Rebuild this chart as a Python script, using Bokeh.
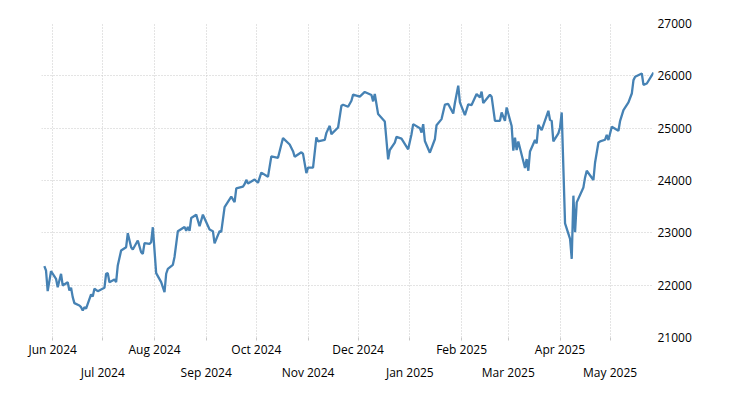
import pandas as pd
from bokeh.plotting import figure
from bokeh.models import ColumnDataSource, DatetimeAxis, FixedTicker, Range1d, NumeralTickFormatter
from bokeh.embed import file_html
from bokeh.resources import INLINE

dates = [
    "2024-05-27", "2024-05-28", "2024-05-29", "2024-05-31", "2024-06-03", "2024-06-04", "2024-06-06",
    "2024-06-07", "2024-06-10", "2024-06-11", "2024-06-12", "2024-06-13", "2024-06-14", "2024-06-17",
    "2024-06-18", "2024-06-19", "2024-06-20", "2024-06-21", "2024-06-24", "2024-06-25", "2024-06-26",
    "2024-06-28", "2024-07-02", "2024-07-03", "2024-07-04", "2024-07-05", "2024-07-08", "2024-07-09",
    "2024-07-10", "2024-07-12", "2024-07-15", "2024-07-16", "2024-07-18", "2024-07-19", "2024-07-22",
    "2024-07-24", "2024-07-25", "2024-07-26", "2024-07-29", "2024-07-30", "2024-07-31", "2024-08-02",
    "2024-08-05", "2024-08-07", "2024-08-08", "2024-08-09", "2024-08-12", "2024-08-13", "2024-08-15",
    "2024-08-19", "2024-08-20", "2024-08-21", "2024-08-22", "2024-08-23", "2024-08-26", "2024-08-28",
    "2024-08-30", "2024-09-03", "2024-09-05", "2024-09-06", "2024-09-09", "2024-09-10", "2024-09-12",
    "2024-09-16", "2024-09-18", "2024-09-19", "2024-09-23", "2024-09-24", "2024-09-25", "2024-09-26",
    "2024-09-30", "2024-10-02", "2024-10-04", "2024-10-08", "2024-10-10", "2024-10-14", "2024-10-17",
    "2024-10-21", "2024-10-23", "2024-10-24", "2024-10-28", "2024-10-29", "2024-10-31", "2024-11-01",
    "2024-11-04", "2024-11-06", "2024-11-07", "2024-11-11", "2024-11-12", "2024-11-14", "2024-11-15",
    "2024-11-19", "2024-11-21", "2024-11-22", "2024-11-25", "2024-11-27", "2024-11-28", "2024-12-02",
    "2024-12-05", "2024-12-09", "2024-12-10", "2024-12-11", "2024-12-13", "2024-12-17", "2024-12-19",
    "2024-12-20", "2024-12-23", "2024-12-24", "2024-12-27", "2024-12-31", "2025-01-02", "2025-01-03",
    "2025-01-07", "2025-01-08", "2025-01-09", "2025-01-10", "2025-01-13", "2025-01-16", "2025-01-17",
    "2025-01-20", "2025-01-22", "2025-01-24", "2025-01-27", "2025-01-28", "2025-01-30", "2025-01-31",
    "2025-02-03", "2025-02-05", "2025-02-07", "2025-02-10", "2025-02-12", "2025-02-13", "2025-02-14",
    "2025-02-18", "2025-02-19", "2025-02-21", "2025-02-24", "2025-02-25", "2025-02-27", "2025-02-28",
    "2025-03-03", "2025-03-04", "2025-03-05", "2025-03-06", "2025-03-07", "2025-03-11", "2025-03-12",
    "2025-03-13", "2025-03-14", "2025-03-17", "2025-03-18", "2025-03-19", "2025-03-21", "2025-03-25",
    "2025-03-26", "2025-03-27", "2025-03-28", "2025-03-31", "2025-04-01", "2025-04-02", "2025-04-04",
    "2025-04-07", "2025-04-08", "2025-04-09", "2025-04-10", "2025-04-11", "2025-04-15", "2025-04-16",
    "2025-04-17", "2025-04-21", "2025-04-22", "2025-04-24", "2025-04-25", "2025-04-28", "2025-04-29",
    "2025-04-30", "2025-05-02", "2025-05-06", "2025-05-07", "2025-05-09", "2025-05-12", "2025-05-14",
    "2025-05-15", "2025-05-16", "2025-05-20", "2025-05-21", "2025-05-23", "2025-05-27",
]

values = [
    22363, 22280, 21885, 22267, 22122, 21962, 22217,
    21994, 22057, 21899, 21950, 21771, 21656, 21612,
    21580, 21515, 21580, 21550, 21822, 21784, 21931,
    21885, 21950, 22218, 22230, 22057, 22109, 22057,
    22376, 22662, 22725, 22992, 22725, 22681, 22853,
    22630, 22599, 22802, 22790, 22821, 23107, 22229,
    22057, 21866, 22218, 22313, 22389, 22540, 23031,
    23113, 23038, 23113, 23038, 23283, 23347, 23126,
    23347, 23064, 23032, 22800, 23032, 23019, 23491,
    23692, 23585, 23849, 23881, 23932, 24013, 23943,
    24019, 23956, 24151, 24070, 24460, 24434, 24811,
    24687, 24560, 24453, 24541, 24509, 24140, 24245,
    24245, 24824, 24749, 24775, 24910, 25044, 24885,
    25012, 25429, 25448, 25410, 25525, 25640, 25602,
    25692, 25635, 25512, 25654, 25269, 25127, 24404,
    24583, 24723, 24833, 24800, 24596, 24885, 25077,
    25000, 24915, 25077, 24756, 24531, 24788, 25057,
    25173, 25448, 25462, 25281, 25481, 25813, 25492,
    25250, 25454, 25442, 25654, 25588, 25698, 25481,
    25640, 25602, 25140, 25141, 25300, 25141, 25395,
    25040, 24569, 24820, 24582, 24746, 24238, 24410,
    24187, 24555, 24773, 24708, 25065, 24963, 25332,
    25155, 25141, 24746, 24899, 25014, 25300, 23181,
    22884, 22502, 23710, 23010, 23582, 23868, 24059,
    24187, 24010, 24345, 24727, 24746, 24779, 24874,
    24773, 25027, 24950, 25141, 25345, 25491, 25662,
    25918, 25981, 26044, 25828, 25853, 26063,
]

row1_ticks = ["2024-06-01", "2024-08-01", "2024-10-01", "2024-12-01", "2025-02-01", "2025-04-01"]
row1_labels = ["Jun 2024", "Aug 2024", "Oct 2024", "Dec 2024", "Feb 2025", "Apr 2025"]
row2_ticks = ["2024-07-01", "2024-09-01", "2024-11-01", "2025-01-01", "2025-03-01", "2025-05-01"]
row2_labels = ["Jul 2024", "Sep 2024", "Nov 2024", "Jan 2025", "Mar 2025", "May 2025"]
y_ticks = [21000, 22000, 23000, 24000, 25000, 26000, 27000]


def to_ms(s):
    return float(pd.Timestamp(s).value // 10**6)


row1_ms = [to_ms(s) for s in row1_ticks]
row2_ms = [to_ms(s) for s in row2_ticks]
all_ms = sorted(row1_ms + row2_ms)

src = ColumnDataSource(data=dict(date=pd.to_datetime(dates), value=values))

FONT = "Open Sans"
FSIZE = "12px"
TCOLOR = "#000000"
GRID = "#c8c8c8"

p = figure(
    width=716, height=392,
    x_axis_type="datetime", y_axis_location="right",
    x_range=Range1d(to_ms("2024-05-25") + 7 * 3600e3, to_ms("2025-05-27")),
    y_range=Range1d(21000, 27000),
    output_backend="svg", toolbar_location=None,
    min_border_left=41, min_border_right=63, min_border_top=23, min_border_bottom=55,
)
p.outline_line_color = None
p.background_fill_color = "white"
p.border_fill_color = "white"

p.xgrid.ticker = FixedTicker(ticks=all_ms)
p.ygrid.ticker = FixedTicker(ticks=y_ticks)
for g in (p.xgrid, p.ygrid):
    g.grid_line_color = GRID
    g.grid_line_dash = "1 2"
    g.grid_line_width = 1

ax1 = p.xaxis[0]
ax1.ticker = FixedTicker(ticks=row1_ms, minor_ticks=row2_ms)
ax1.major_label_overrides = {t: l for t, l in zip(row1_ms, row1_labels)}
ax1.axis_line_color = None
ax1.major_tick_in = 0
ax1.major_tick_out = 3
ax1.minor_tick_in = 0
ax1.minor_tick_out = 3
ax1.major_tick_line_color = GRID
ax1.minor_tick_line_color = GRID
ax1.major_label_standoff = 0

ax2 = DatetimeAxis(ticker=FixedTicker(ticks=row2_ms, minor_ticks=[]))
ax2.major_label_overrides = {t: l for t, l in zip(row2_ms, row2_labels)}
ax2.axis_line_color = None
ax2.major_tick_line_color = None
ax2.minor_tick_line_color = None
ax2.major_tick_in = 0
ax2.major_tick_out = 0
ax2.minor_tick_out = 0
ax2.major_label_standoff = 3
p.add_layout(ax2, "below")

ay = p.yaxis[0]
ay.ticker = FixedTicker(ticks=y_ticks)
ay.formatter = NumeralTickFormatter(format="0")
ay.axis_line_color = None
ay.major_tick_line_color = None
ay.minor_tick_line_color = None
ay.major_tick_in = 0
ay.major_tick_out = 0
ay.major_label_standoff = 4

for ax in (ax1, ax2, ay):
    ax.major_label_text_font = FONT
    ax.major_label_text_font_size = FSIZE
    ax.major_label_text_color = TCOLOR

p.line(x="date", y="value", source=src, line_color="#4682b4", line_width=2.3)

open("out.html", "w").write(file_html(p, INLINE))
